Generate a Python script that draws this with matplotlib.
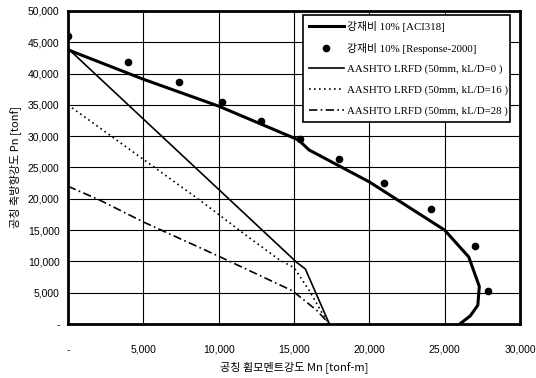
import numpy as np
import matplotlib.pyplot as plt
from matplotlib.ticker import FixedLocator

# ACI318 interaction curve (steel ratio 10%)
aci_m = [0, 5000, 10000, 15300, 16000, 20000, 25000, 26600, 27300, 27200, 26700, 26000]
aci_p = [43800, 39100, 34800, 29400, 27800, 22700, 15000, 10700, 6000, 3000, 1300, 0]

# Response-2000 points
resp_m = [0, 4000, 7350, 10200, 12800, 15400, 18000, 21000, 24100, 27000, 27900]
resp_p = [46000, 41900, 38600, 35400, 32500, 29500, 26300, 22500, 18300, 12500, 5300]

# AASHTO LRFD curves
kl0_m = [0, 15200, 15750, 17350]
kl0_p = [44000, 9800, 8800, 0]

kl16_m = [0, 8740, 11800, 14000, 15000, 16000, 17000, 17350]
kl16_p = [35000, 19800, 14200, 10300, 9000, 5400, 1200, 0]

kl28_m = [0, 2100, 5000, 10070, 14900, 16500, 17350]
kl28_p = [22000, 19800, 16300, 10750, 5300, 2200, 0]

x_ticks = [0, 5000, 10000, 15000, 20000, 25000, 30000]
x_labels = ['-', '5,000', '10,000', '15,000', '20,000', '25,000', '30,000']
y_ticks = [0, 5000, 10000, 15000, 20000, 25000, 30000, 35000, 40000, 45000, 50000]
y_labels = ['-', '5,000', '10,000', '15,000', '20,000', '25,000', '30,000',
            '35,000', '40,000', '45,000', '50,000']

num_font = ['Liberation Sans', 'DejaVu Sans']
leg_font = ['Liberation Serif', 'Noto Sans CJK KR']
kor_font = ['Noto Sans CJK KR', 'DejaVu Sans']

fig = plt.figure(figsize=(5.36, 3.78), dpi=100)
ax = fig.add_axes([68 / 536, 1 - 324 / 378, (520 - 68) / 536, (324 - 11) / 378])

ax.plot(aci_m, aci_p, color='black', lw=2.2, label='강재비 10% [ACI318]')
ax.plot(resp_m, resp_p, 'o', color='black', ms=4.5, label='강재비 10% [Response-2000]')
ax.plot(kl0_m, kl0_p, color='black', lw=1.2, label='AASHTO LRFD (50mm, kL/D=0 )')
ax.plot(kl16_m, kl16_p, color='black', lw=1.2, ls=(0, (1, 2)),
        label='AASHTO LRFD (50mm, kL/D=16 )')
ax.plot(kl28_m, kl28_p, color='black', lw=1.2, ls=(0, (5, 2, 1, 2)),
        label='AASHTO LRFD (50mm, kL/D=28 )')

ax.set_xlim(0, 30000)
ax.set_ylim(0, 50000)
ax.xaxis.set_major_locator(FixedLocator(x_ticks))
ax.yaxis.set_major_locator(FixedLocator(y_ticks))
ax.set_xticklabels(x_labels, family=num_font, fontsize=7.5)
ax.set_yticklabels(y_labels, family=num_font, fontsize=7.5)
ax.tick_params(axis='x', length=0, pad=15)
ax.tick_params(axis='y', length=0, pad=6)
ax.grid(True, color='black', lw=0.8)
ax.set_axisbelow(True)
for s in ax.spines.values():
    s.set_linewidth(2)

ax.set_xlabel('공칭 휨모멘트강도 Mn [tonf-m]', family=kor_font, fontsize=8)
ax.xaxis.set_label_coords(0.5, -0.14)
ax.xaxis.label.set_va('center')
ax.set_ylabel('공칭 축방향강도 Pn [tonf]', family=kor_font, fontsize=8)
ax.yaxis.set_label_coords(-0.105, 0.5)

leg_top = 1 - 4 / 313
leg_h = 0.36
leg = ax.legend(loc='upper left',
                bbox_to_anchor=((303 - 68) / 452, leg_top - leg_h, (510 - 303) / 452, leg_h),
                mode='expand', prop={'family': leg_font, 'size': 7.8},
                frameon=True, fancybox=False, edgecolor='black', framealpha=1,
                handlelength=3.2, handletextpad=0.3, labelspacing=1.0,
                borderpad=0.55, borderaxespad=0)
leg.get_frame().set_linewidth(1.2)

fig.savefig('out.png', dpi=100)
